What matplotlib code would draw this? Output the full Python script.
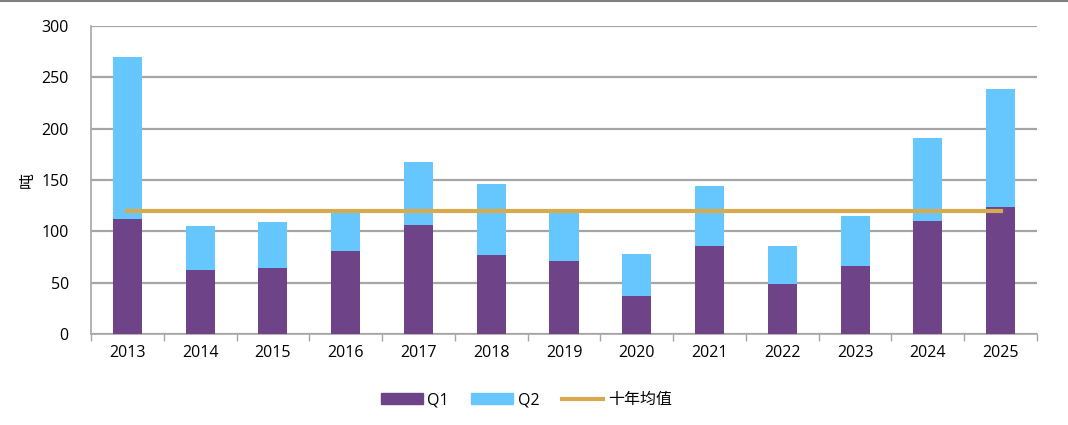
import matplotlib
matplotlib.use("Agg")
import matplotlib.pyplot as plt
from matplotlib.lines import Line2D
import numpy as np

plt.rcParams['font.family'] = ['Open Sans', 'Noto Sans CJK SC', 'DejaVu Sans']
plt.rcParams['axes.unicode_minus'] = False

# 数据
years = ['2013', '2014', '2015', '2016', '2017', '2018', '2019',
         '2020', '2021', '2022', '2023', '2024', '2025']
q1 = [112, 62, 64, 81, 106, 77, 71, 37, 86, 49, 66, 110, 124]
q2 = [158, 43, 45, 41, 62, 69, 49, 41, 58, 37, 49, 81, 115]
avg10 = 119.5

C_Q1 = '#6F4388'
C_Q2 = '#66C7FF'
C_AVG = '#D8AA4E'
C_GRID = '#A6A6A6'

fig = plt.figure(figsize=(10.68, 4.25), dpi=100)
ax = fig.add_axes([0.0852, 0.2141, 0.8858, 0.7247])

x = np.arange(len(years))
ax.bar(x, q1, width=0.4, color=C_Q1, label='Q1', zorder=3)
ax.bar(x, q2, width=0.4, bottom=q1, color=C_Q2, label='Q2', zorder=3)
ax.plot([x[0], x[-1]], [avg10, avg10], color=C_AVG, linewidth=3, zorder=4,
        label='十年均值')

ax.set_xlim(-0.5, len(years) - 0.5)
ax.set_ylim(0, 300)
ax.set_yticks(range(0, 301, 50))
ax.set_xticks(x)
ax.set_xticklabels(years)
ax.set_xticks(np.arange(-0.5, len(years), 1), minor=True)
ax.tick_params(axis='x', which='major', length=0, labelsize=11.5, pad=8)
ax.tick_params(axis='x', which='minor', length=5, color=C_GRID, width=1)
ax.tick_params(axis='y', length=0, labelsize=11.5, pad=16)

ax.grid(axis='y', color=C_GRID, linewidth=1.6, zorder=0)
for s in ['top', 'right']:
    ax.spines[s].set_visible(False)
for s in ['left', 'bottom']:
    ax.spines[s].set_color(C_GRID)
    ax.spines[s].set_linewidth(1.2)

ax.set_ylabel('吨', fontsize=11.5, labelpad=4)

# 图例
handles = [
    plt.Rectangle((0, 0), 1, 1, color=C_Q1),
    plt.Rectangle((0, 0), 1, 1, color=C_Q2),
    Line2D([0], [0], color=C_AVG, linewidth=3),
]
fig.legend(handles, ['Q1', 'Q2', '十年均值'], loc='center',
           bbox_to_anchor=(0.493, 0.058), ncol=3, frameon=False,
           fontsize=11.5, handlelength=2.6, handleheight=0.7,
           handletextpad=0.3, columnspacing=1.4)

# 顶部边框线
fig.add_artist(Line2D([0, 1], [0.998, 0.998], color='#808080', linewidth=1.5,
                      transform=fig.transFigure))

fig.savefig('out.png', dpi=100, facecolor='white')
